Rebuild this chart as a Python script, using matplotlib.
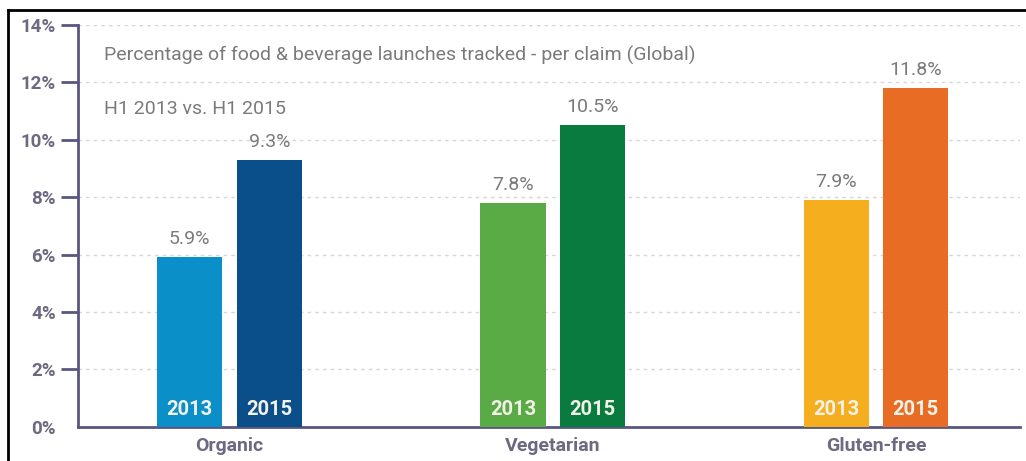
import matplotlib.pyplot as plt
from matplotlib.lines import Line2D
import numpy as np

categories = ["Organic", "Vegetarian", "Gluten-free"]
years = ["2013", "2015"]
values_2013 = [5.9, 7.8, 7.9]
values_2015 = [9.3, 10.5, 11.8]
colors_2013 = ["#0a8fc8", "#5aaa46", "#f5ae1e"]
colors_2015 = ["#0b4f8a", "#0a7b3f", "#e96c24"]
yticks = [0, 2, 4, 6, 8, 10, 12, 14]

plt.rcParams['font.family'] = ['Roboto', 'DejaVu Sans']

fig = plt.figure(figsize=(10.26, 4.61), dpi=100)
ax = fig.add_axes([0.076, 0.074, 0.918, 0.872])

x = np.arange(len(categories))
w = 0.202
off = 0.123
axis_col = "#5b5680"
label_col = "#6c6a80"

bars1 = ax.bar(x - off, values_2013, w, color=colors_2013, zorder=3)
bars2 = ax.bar(x + off, values_2015, w, color=colors_2015, zorder=3)

for bars, vals in ((bars1, values_2013), (bars2, values_2015)):
    for b, v in zip(bars, vals):
        cx = b.get_x() + b.get_width() / 2
        ax.text(cx, v + 0.32, f"{v}%", ha="center", va="bottom",
                fontsize=14, color="#7a7a7a")

for bars, yr in ((bars1, years[0]), (bars2, years[1])):
    for b in bars:
        cx = b.get_x() + b.get_width() / 2
        ax.text(cx, 0.62, yr, ha="center", va="center", fontsize=14.5,
                fontweight="bold", color="#f2f2e8", zorder=4)

ax.set_xlim(-0.469, 2.445)
ax.set_ylim(0, 14)
ax.set_yticks(yticks)
ax.set_yticklabels([f"{t}%" for t in yticks], fontsize=13.5, fontweight="bold",
                   color=label_col)
ax.set_xticks(x)
ax.set_xticklabels(categories, fontsize=14, fontweight="bold", color=label_col)
ax.tick_params(axis="x", length=0, pad=7)
ax.tick_params(axis="y", length=12, width=2, color=axis_col, pad=4)
ax.yaxis.get_major_ticks()[0].tick1line.set_visible(False)

ax.grid(axis="y", color="#d6d6d6", linestyle=(0, (2.5, 3)), linewidth=1, zorder=0)
ax.set_axisbelow(True)

for s in ("top", "right"):
    ax.spines[s].set_visible(False)
for s in ("left", "bottom"):
    ax.spines[s].set_color(axis_col)
    ax.spines[s].set_linewidth(2)

ax.text(0.028, 0.925, "Percentage of food & beverage launches tracked - per claim (Global)",
        transform=ax.transAxes, fontsize=14, color="#7a7a7a", va="center")
ax.text(0.028, 0.79, "H1 2013 vs. H1 2015", transform=ax.transAxes,
        fontsize=14, color="#7a7a7a", va="center")

# frame lines along the left and top of the figure
fx = 8 / 1026
fy = 1 - 10 / 461
fig.lines.append(Line2D([fx, fx], [0, fy], transform=fig.transFigure,
                        color="black", linewidth=2))
fig.lines.append(Line2D([fx, 1], [fy, fy], transform=fig.transFigure,
                        color="black", linewidth=2))

fig.savefig("out.png", dpi=100)
